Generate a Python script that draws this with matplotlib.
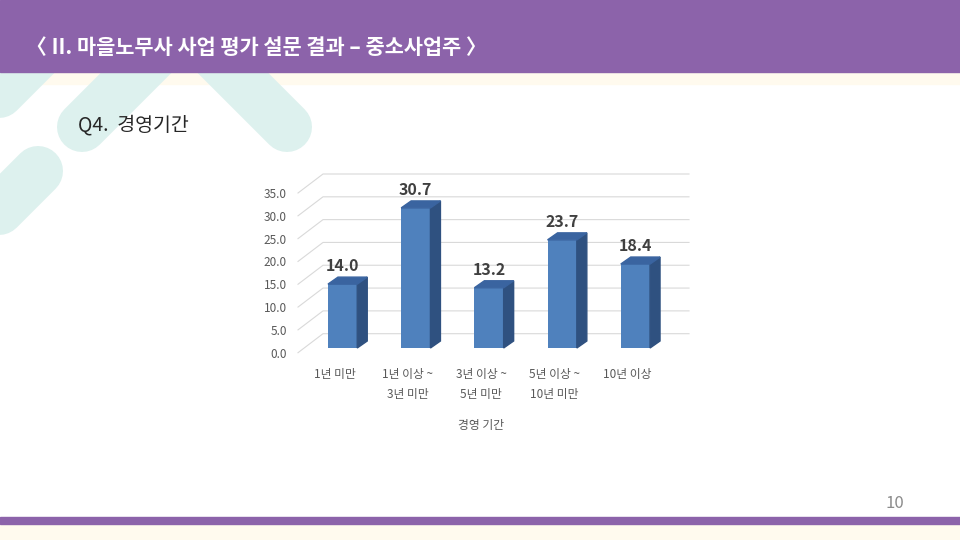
# Q4. 경영기간 - 3D style column chart on a slide layout

import matplotlib
matplotlib.use("Agg")
import matplotlib.pyplot as plt
import matplotlib.transforms as mtransforms
from matplotlib.patches import Rectangle, Polygon

plt.rcParams['font.family'] = ['Noto Sans CJK KR', 'DejaVu Sans']

# Chart data
categories = ["1년 미만", "1년 이상 ~\n3년 미만", "3년 이상 ~\n5년 미만",
              "5년 이상 ~\n10년 미만", "10년 이상"]
values = [14.0, 30.7, 13.2, 23.7, 18.4]
y_ticks = [0, 5, 10, 15, 20, 25, 30, 35]

# Slide texts
header_title = "〈 II. 마을노무사 사업 평가 설문 결과 – 중소사업주 〉"
question = "Q4.  경영기간"
x_title = "경영 기간"
page_no = "10"

purple = '#8C63AA'
cream = '#FFFAEE'
teal = '#DDF1EE'

fig = plt.figure(figsize=(9.6, 5.4), dpi=100)

# Background layer (pixel coordinates)
bg = fig.add_axes([0, 0, 1, 1])
bg.set_xlim(0, 960)
bg.set_ylim(540, 0)
bg.axis("off")
bg.add_patch(Rectangle((0, 0), 960, 540, color='white', zorder=0))
bg.add_patch(Rectangle((0, 72), 960, 12, color=cream, zorder=0))
bg.add_patch(Rectangle((0, 524), 960, 16, color=cream, zorder=0))

# decorative rounded strokes
strokes = [((150, -10), (287, 127)),
           ((219, -10), (82, 127)),
           ((120, -28), (-60, 152)),
           ((38, 171), (-100, 309))]
for (x0, y0), (x1, y1) in strokes:
    bg.plot([x0, x1], [y0, y1], color=teal, lw=50 * 0.72, solid_capstyle='round', zorder=1)

# header and footer bars
bg.add_patch(Rectangle((0, 0), 960, 72, color=purple, zorder=5))
bg.add_patch(Rectangle((0, 517), 960, 7, color=purple, zorder=5))
bg.text(26, 47, header_title, color='white', fontsize=15, fontweight='bold',
        ha='left', va='center', zorder=6)
bg.text(78, 125, question, color='#262626', fontsize=14, ha='left', va='center')
bg.text(895, 504, page_no, color='#8C8C8C', fontsize=12, ha='center', va='center')

# Chart axes: front plane of the wall
ax = fig.add_axes([298 / 960, (540 - 352.7) / 540, 366 / 960, 159.7 / 540])
ax.set_xlim(-0.5, 4.5)
ax.set_ylim(0, 35)
ax.patch.set_alpha(0)
for s in ax.spines.values():
    s.set_visible(False)

px_x = 366 / 5        # pixels per category
px_y = 159.7 / 35     # pixels per unit
wall_dx, wall_dy = 25 / px_x, 19 / px_y
bar_dx, bar_dy = 10 / px_x, 7 / px_y

# gridlines with diagonal side wall
for v in y_ticks:
    ax.plot([-0.5, -0.5 + wall_dx, 4.5 + wall_dx], [v, v + wall_dy, v + wall_dy],
            color='#D9D9D9', lw=0.8, clip_on=False)

# bars sit a little behind the front plane
shift = ax.transData + mtransforms.ScaledTranslation(8 / 100, 4.7 / 100, fig.dpi_scale_trans)
xs = list(range(len(values)))
ax.bar(xs, values, width=0.4, color='#4F81BD', transform=shift, clip_on=False, zorder=3)

for i, v in zip(xs, values):
    x0, x1 = i - 0.2, i + 0.2
    side = Polygon([(x1, 0), (x1 + bar_dx, bar_dy), (x1 + bar_dx, v + bar_dy), (x1, v)],
                   closed=True, color='#2F5180', transform=shift, clip_on=False, zorder=3)
    top = Polygon([(x0, v), (x0 + bar_dx, v + bar_dy), (x1 + bar_dx, v + bar_dy), (x1, v)],
                  closed=True, color='#3A64A0', transform=shift, clip_on=False, zorder=3)
    ax.add_patch(side)
    ax.add_patch(top)
    ax.annotate(f"{v:.1f}", (i, v), xycoords=shift, xytext=(0, 13),
                textcoords='offset points', ha='center', va='center',
                fontsize=11.5, fontweight='bold', color='#404040')

# axis labels
ax.set_yticks(y_ticks, [f"{t:.1f}" for t in y_ticks])
ax.set_xticks(xs, categories)
ax.tick_params(axis='y', length=0, pad=8, labelsize=8.5, labelcolor='#595959')
ax.tick_params(axis='x', length=0, pad=11, labelsize=8.5, labelcolor='#595959')
for lbl in ax.get_xticklabels():
    lbl.set_linespacing(1.7)
ax.set_xlabel(x_title, fontsize=8.5, color='#595959', labelpad=13)

fig.savefig('out.png', dpi=100)
